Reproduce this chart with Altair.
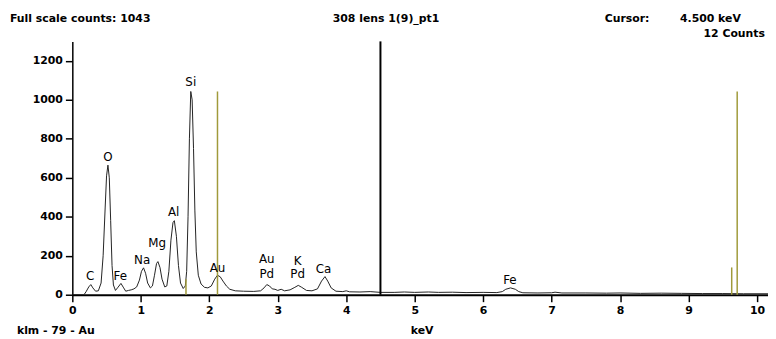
import altair as alt
import pandas as pd

# Spectrum (keV, counts)
energy = [0.00, 0.10, 0.17, 0.20, 0.24, 0.27, 0.30, 0.34, 0.38, 0.42, 0.45, 0.48, 0.50, 0.52, 0.54,
          0.56, 0.58, 0.60, 0.63, 0.66, 0.71, 0.75, 0.78, 0.82, 0.86, 0.90, 0.94, 0.98, 1.01, 1.04,
          1.07, 1.10, 1.14, 1.17, 1.20, 1.23, 1.25, 1.28, 1.31, 1.35, 1.38, 1.41, 1.44, 1.47, 1.49,
          1.52, 1.55, 1.58, 1.62, 1.65, 1.67, 1.69, 1.71, 1.73, 1.75, 1.77, 1.79, 1.81, 1.84, 1.88,
          1.93, 1.98, 2.03, 2.08, 2.12, 2.16, 2.20, 2.25, 2.30, 2.38, 2.50, 2.65, 2.75, 2.80, 2.84,
          2.88, 2.92, 2.96, 3.00, 3.05, 3.10, 3.18, 3.25, 3.30, 3.35, 3.42, 3.50, 3.58, 3.64, 3.69,
          3.73, 3.78, 3.85, 3.95, 4.00, 4.05, 4.20, 4.35, 4.50, 4.70, 4.85, 5.00, 5.20, 5.35, 5.55,
          5.75, 6.00, 6.20, 6.28, 6.33, 6.40, 6.47, 6.52, 6.58, 6.80, 7.00, 7.05, 7.15, 7.50, 7.80,
          8.00, 8.30, 8.60, 8.90, 9.20, 9.50, 9.80, 10.16]
counts = [0, 0, 0, 15, 40, 52, 35, 18, 20, 60, 200, 450, 610, 665, 600,
          380, 150, 50, 22, 35, 58, 35, 18, 22, 25, 30, 40, 75, 120, 138,
          110, 60, 35, 45, 100, 160, 170, 140, 80, 40, 45, 120, 280, 370, 380,
          300, 150, 60, 32, 45, 120, 400, 800, 1043, 1000, 750, 430, 220, 100, 55,
          38, 35, 45, 80, 100, 92, 70, 45, 28, 20, 18, 17, 20, 35, 52,
          45, 30, 28, 22, 28, 20, 25, 38, 48, 38, 22, 20, 30, 70, 93,
          70, 35, 18, 16, 20, 15, 14, 16, 12, 12, 14, 12, 14, 12, 13,
          11, 12, 11, 16, 28, 35, 28, 16, 10, 9, 10, 13, 9, 9, 8,
          9, 7, 8, 7, 6, 6, 5, 5]

# Element markers (olive lines)
marker_e = [1.66, 2.12, 9.63, 9.71]
marker_h = [80, 1043, 140, 1043]

# Cursor
cursor_e = [4.5]

# Peak labels
label_text = ["C", "O", "Fe", "Na", "Mg", "Al", "Si", "Au", "Au", "Pd", "K", "Pd", "Ca", "Fe"]
label_e = [0.26, 0.52, 0.70, 1.02, 1.24, 1.48, 1.73, 2.12, 2.84, 2.84, 3.29, 3.29, 3.67, 6.39]
label_y = [97, 707, 98, 179, 264, 422, 1089, 139, 182, 104, 172, 104, 132, 73]

x_ticks = list(range(0, 11))
y_ticks = [0, 200, 400, 600, 800, 1000, 1200]

W, H = 703, 256
FONT = "DejaVu Sans"

spec = pd.DataFrame({"e": energy, "c": counts})
marks = pd.DataFrame({"e": marker_e, "h": marker_h, "z": [0] * len(marker_e)})
cur = pd.DataFrame({"e": cursor_e})
labels = pd.DataFrame({"t": label_text, "e": label_e, "y": label_y})

xscale = alt.Scale(domain=[0, 10.16], nice=False, zero=False)
yscale = alt.Scale(domain=[0, 1300], nice=False)

xaxis = alt.Axis(values=x_ticks, format="d", tickSize=7, tickColor="black", tickWidth=1.5,
                 domainColor="black", domainWidth=2, labelFont=FONT, labelFontWeight="bold",
                 labelFontSize=11, labelColor="black", labelPadding=3, grid=False, title=None,
                 labelFlush=False)
yaxis = alt.Axis(values=y_ticks, format="d", tickSize=7, tickColor="black", tickWidth=1.5,
                 domainColor="black", domainWidth=1.5, labelFont=FONT, labelFontWeight="bold",
                 labelFontSize=11, labelColor="black", labelPadding=3, grid=False, title=None)

line = alt.Chart(spec).mark_line(color="#222222", strokeWidth=1, clip=True).encode(
    x=alt.X("e:Q", scale=xscale, axis=xaxis),
    y=alt.Y("c:Q", scale=yscale, axis=yaxis),
)

olive = alt.Chart(marks).mark_rule(color="#a09a3a", strokeWidth=1.5).encode(
    x=alt.X("e:Q", scale=xscale),
    y=alt.Y("z:Q", scale=yscale),
    y2="h:Q",
)

cursor = alt.Chart(cur).mark_rule(color="black", strokeWidth=2).encode(
    x=alt.X("e:Q", scale=xscale),
    y=alt.value(0),
    y2=alt.value(H),
)

peak_labels = alt.Chart(labels).mark_text(font=FONT, fontSize=12, color="black",
                                          baseline="middle", align="center").encode(
    x=alt.X("e:Q", scale=xscale),
    y=alt.Y("y:Q", scale=yscale),
    text="t:N",
)

def txt(s, x, y, align="left"):
    return alt.Chart(pd.DataFrame({"t": [s]})).mark_text(
        font=FONT, fontSize=11, fontWeight="bold", color="black",
        align=align, baseline="middle").encode(
        x=alt.value(x), y=alt.value(y), text="t:N")

header = [
    txt("Full scale counts: 1043", -63, -23),
    txt("308 lens 1(9)_pt1", 317, -23, "center"),
    txt("Cursor:", 538, -23),
    txt("4.500 keV", 614, -23),
    txt("12 Counts", 700, -7, "right"),
    txt("klm - 79 - Au", -56, 293),
    txt("keV", 342, 293),
]

chart = alt.layer(line, olive, cursor, peak_labels, *header).properties(
    width=W, height=H,
    autosize=alt.AutoSizeParams(type="none"),
    padding={"left": 65, "top": 32, "right": 0, "bottom": 43},
    background="white",
).configure_view(stroke=None)

chart.save("out.html", embed_options={"renderer": "svg", "actions": False})
